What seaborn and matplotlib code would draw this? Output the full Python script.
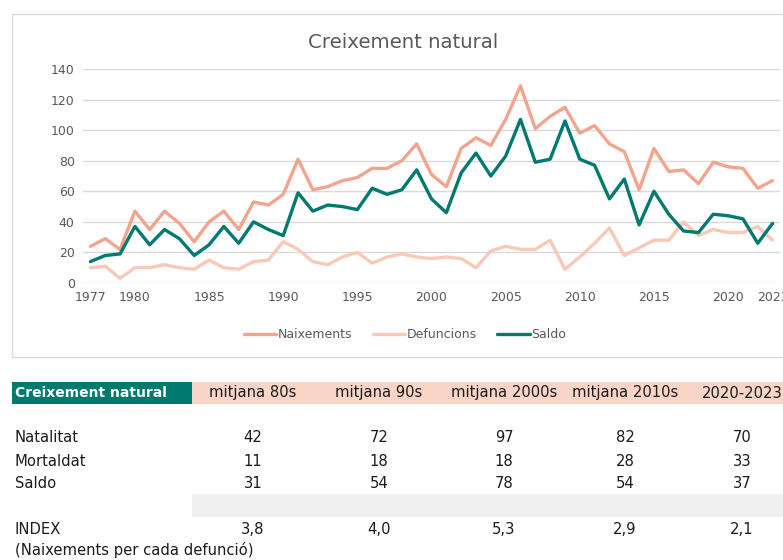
import numpy as np
import pandas as pd
import matplotlib
matplotlib.use("Agg")
import matplotlib.pyplot as plt
from matplotlib.patches import Rectangle
import seaborn as sns

# Annual series (per year, 1977-2023)
years = list(range(1977, 2024))
naixements = [24, 29, 22, 47, 35, 47, 39, 27, 40, 47,
              35, 53, 51, 58, 81, 61, 63, 67, 69, 75,
              75, 80, 91, 71, 63, 88, 95, 90, 107, 129,
              101, 109, 115, 98, 103, 91, 86, 61, 88, 73,
              74, 65, 79, 76, 75, 62, 67]
defuncions = [10, 11, 3, 10, 10, 12, 10, 9, 15, 10,
              9, 14, 15, 27, 22, 14, 12, 17, 20, 13,
              17, 19, 17, 16, 17, 16, 10, 21, 24, 22,
              22, 28, 9, 17, 26, 36, 18, 23, 28, 28,
              40, 31, 35, 33, 33, 37, 28]
saldo = [14, 18, 19, 37, 25, 35, 29, 18, 25, 37,
         26, 40, 35, 31, 59, 47, 51, 50, 48, 62,
         58, 61, 74, 55, 46, 72, 85, 70, 83, 107,
         79, 81, 106, 81, 77, 55, 68, 38, 60, 45,
         34, 33, 45, 44, 42, 26, 39]

series_names = ["Naixements", "Defuncions", "Saldo"]
series_colors = ["#F2A58C", "#F9C9B8", "#00796F"]
x_ticks = [1977, 1980, 1985, 1990, 1995, 2000, 2005, 2010, 2015, 2020, 2023]
y_ticks = [0, 20, 40, 60, 80, 100, 120, 140]

# Summary table by period
periods = ["mitjana 80s", "mitjana 90s", "mitjana 2000s", "mitjana 2010s", "2020-2023"]
natalitat = [42, 72, 97, 82, 70]
mortaldat = [11, 18, 18, 28, 33]
saldo_mitja = [31, 54, 78, 54, 37]
index_vals = [3.8, 4.0, 5.3, 2.9, 2.1]

df = pd.DataFrame({"Any": years * 3,
                   "Valor": naixements + defuncions + saldo,
                   "Serie": sum([[n] * len(years) for n in series_names], [])})

sns.set_theme(style="white")
plt.rcParams["font.family"] = ["DejaVu Sans"]

W, H = 783, 560
fig = plt.figure(figsize=(W / 100, H / 100), dpi=100)

def fx(px):
    return px / W

def fy(py):
    return 1 - py / H

# chart frame
fig.patches.append(Rectangle((fx(11.5), fy(357)), fx(800 - 11.5), fy(14) - fy(357),
                             transform=fig.transFigure, fill=False,
                             edgecolor="#D9D9D9", linewidth=1.0))

ax = fig.add_axes([fx(83), fy(283), fx(780 - 83), fy(69) - fy(283)])
sns.lineplot(data=df, x="Any", y="Valor", hue="Serie", hue_order=series_names,
             palette=series_colors, linewidth=2.4, ax=ax, legend=True)

ax.set_xlim(1976.5, 2023.5)
ax.set_ylim(0, 140)
ax.set_xticks(x_ticks)
ax.set_yticks(y_ticks)
ax.grid(axis="y", color="#D9D9D9", linewidth=1.0)
ax.set_axisbelow(True)
for s in ax.spines.values():
    s.set_visible(False)
ax.tick_params(axis="both", length=0, labelsize=9, colors="#595959", pad=6)
ax.set_xlabel("")
ax.set_ylabel("")

handles, labels = ax.get_legend_handles_labels()
ax.legend(handles, labels, loc="center", bbox_to_anchor=(fx(405), fy(335)),
          bbox_transform=fig.transFigure, ncol=3, frameon=False,
          fontsize=9, labelcolor="#595959", handlelength=2.6,
          handletextpad=0.15, columnspacing=1.6)

fig.text(fx(403), fy(42), "Creixement natural", ha="center", va="center",
         fontsize=14.2, color="#595959")

# table
col_x = [253, 379, 504, 625, 742]
fig.patches.append(Rectangle((fx(12), fy(404)), fx(192 - 12), fy(382) - fy(404),
                             transform=fig.transFigure, color="#00796F", linewidth=0))
fig.patches.append(Rectangle((fx(192), fy(404)), fx(800 - 192), fy(382) - fy(404),
                             transform=fig.transFigure, color="#F9D5C7", linewidth=0))
fig.patches.append(Rectangle((fx(192), fy(517)), fx(800 - 192), fy(494) - fy(517),
                             transform=fig.transFigure, color="#F0F0F0", linewidth=0))

tk = dict(fontsize=10.6, color="#1A1A1A", va="center")
fig.text(fx(15), fy(393), "Creixement natural", fontsize=10, color="white",
         va="center", fontweight="bold")
for x, p in zip(col_x, periods):
    fig.text(fx(x), fy(393), p, ha="center", **tk)

rows = [("Natalitat", natalitat, 438), ("Mortaldat", mortaldat, 461),
        ("Saldo", saldo_mitja, 483)]
for name, vals, y in rows:
    fig.text(fx(15), fy(y), name, ha="left", **tk)
    for x, v in zip(col_x, vals):
        fig.text(fx(x), fy(y), f"{v}", ha="center", **tk)

fig.text(fx(15), fy(529), "INDEX", ha="left", **tk)
for x, v in zip(col_x, index_vals):
    fig.text(fx(x), fy(529), f"{v:.1f}".replace(".", ","), ha="center", **tk)
fig.text(fx(15), fy(550), "(Naixements per cada defunció)", ha="left", **tk)

fig.savefig("out.png", dpi=100)
